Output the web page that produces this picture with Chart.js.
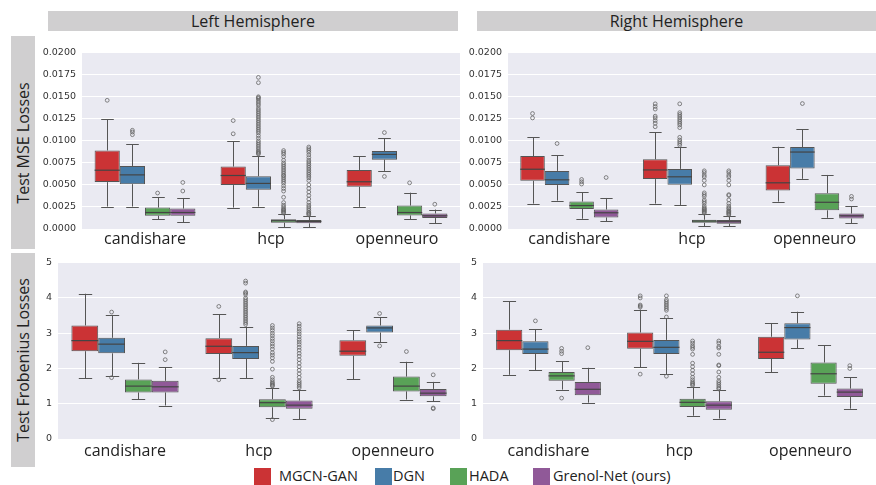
<!DOCTYPE html>
<html>
<head>
<meta charset="utf-8">
<script src="https://cdn.jsdelivr.net/npm/chart.js@4"></script>
<style>
  body { margin: 0; background: #fff; }
  #wrap { position: relative; width: 876px; height: 485px; overflow: hidden; font-family: "Open Sans", "Noto Sans", sans-serif; color: #222; }
  .strip { position: absolute; background: #d0cfd0; display: flex; align-items: center; justify-content: center; font-size: 16px; }
  .row { position: absolute; background: #d0cfd0; }
  .row span { position: absolute; left: 50%; top: 50%; transform: translate(-50%, -50%) rotate(-90deg); white-space: nowrap; font-size: 16px; }
  canvas { position: absolute; }
  .sw { position: absolute; width: 17px; height: 17px; top: 468px; }
  .lt { position: absolute; top: 466px; font-size: 14.5px; line-height: 20px; }
</style>
</head>
<body>
<div id="wrap">
  <div class="strip" style="left:48px;top:11px;width:410px;height:20px;">Left Hemisphere</div>
  <div class="strip" style="left:477px;top:11px;width:399px;height:20px;">Right Hemisphere</div>
  <div class="row" style="left:11px;top:36px;width:24px;height:213px;"><span>Test MSE Losses</span></div>
  <div class="row" style="left:11px;top:253px;width:24px;height:214px;"><span>Test Frobenius Losses</span></div>

  <canvas id="mseLeft" width="426" height="209" style="left:36px;top:41px;"></canvas>
  <canvas id="mseRight" width="414" height="209" style="left:462px;top:41px;"></canvas>
  <canvas id="frobLeft" width="426" height="212" style="left:36px;top:251px;"></canvas>
  <canvas id="frobRight" width="414" height="212" style="left:462px;top:251px;"></canvas>

  <div class="sw" style="left:254px;background:#cb3335;"></div><div class="lt" style="left:279px;">MGCN-GAN</div>
  <div class="sw" style="left:375px;background:#477ca8;"></div><div class="lt" style="left:393px;">DGN</div>
  <div class="sw" style="left:450px;background:#59a257;"></div><div class="lt" style="left:469px;">HADA</div>
  <div class="sw" style="left:533px;background:#905998;"></div><div class="lt" style="left:553px;">Grenol-Net (ours)</div>
</div>

<script>
const categories = ['candishare', 'hcp', 'openneuro'];
const methods = ['MGCN-GAN', 'DGN', 'HADA', 'Grenol-Net (ours)'];
const colors = ['#cb3335', '#477ca8', '#59a257', '#905998'];
const mseTicks = [0, 0.0025, 0.005, 0.0075, 0.01, 0.0125, 0.015, 0.0175, 0.02];
const frobTicks = [0, 1, 2, 3, 4, 5];

// [low whisker, q1, median, q3, high whisker] per category
const mseLeftMgcn = [[0.00255, 0.00532, 0.00667, 0.00891, 0.01243], [0.00243, 0.00498, 0.00607, 0.00708, 0.00996], [0.00251, 0.00479, 0.00536, 0.0067, 0.00828]];
const mseLeftDgn = [[0.00255, 0.00509, 0.00614, 0.00715, 0.00963], [0.00255, 0.00446, 0.00517, 0.00599, 0.00831], [0.00659, 0.00787, 0.00846, 0.00884, 0.0103]];
const mseLeftHada = [[0.00109, 0.0015, 0.00187, 0.00243, 0.00363], [0.00022, 0.00071, 0.00094, 0.00112, 0.00165], [0.00109, 0.00154, 0.00187, 0.00266, 0.00412]];
const mseLeftGrenol = [[0.00075, 0.0015, 0.00187, 0.00232, 0.00352], [0.00022, 0.00064, 0.00086, 0.00101, 0.0015], [0.00064, 0.00124, 0.0015, 0.00176, 0.00221]];

const mseLeftMgcnOut = [[0.0146], [0.0123, 0.0108], []];
const mseLeftDgnOut = [[0.0112, 0.0110, 0.0107],
  [0.0172, 0.0166, 0.0150, 0.0149, 0.0148, 0.0146, 0.0144, 0.0142, 0.0140, 0.0137, 0.0135, 0.0133, 0.0131, 0.0129, 0.0127, 0.0125, 0.0123, 0.0121, 0.0119, 0.0117, 0.0115, 0.0113, 0.0111, 0.0109, 0.0106, 0.0103, 0.0100, 0.0098, 0.0096, 0.0094, 0.0092, 0.0090, 0.0088, 0.0087, 0.0086, 0.0085],
  [0.01094, 0.00596]];
const mseLeftHadaOut = [[0.00408],
  [0.0089, 0.0087, 0.0085, 0.0082, 0.0078, 0.0075, 0.0073, 0.0071, 0.0069, 0.0067, 0.0065, 0.0063, 0.0061, 0.0060, 0.0058, 0.0056, 0.0054, 0.0052, 0.0049, 0.0046, 0.0043, 0.0036, 0.0030, 0.0027, 0.0025, 0.0023, 0.0022, 0.0021, 0.0020, 0.0019, 0.0018],
  [0.00524]];
const mseLeftGrenolOut = [[0.00528, 0.00431],
  [0.0093, 0.0091, 0.0089, 0.0087, 0.0084, 0.0081, 0.0078, 0.0076, 0.0074, 0.0072, 0.0070, 0.0068, 0.0066, 0.0064, 0.0062, 0.0060, 0.0058, 0.0055, 0.0050, 0.0046, 0.0042, 0.0038, 0.0034, 0.0030, 0.0027, 0.0025, 0.0023, 0.0021, 0.0019, 0.0018, 0.0017, 0.0016],
  [0.00281]];

const mseRightMgcn = [[0.00288, 0.00547, 0.00678, 0.00828, 0.01041], [0.00288, 0.00566, 0.0067, 0.0079, 0.01097], [0.00311, 0.00438, 0.00524, 0.00723, 0.00933]];
const mseRightDgn = [[0.00322, 0.00498, 0.00558, 0.00659, 0.00839], [0.00273, 0.00502, 0.00592, 0.00682, 0.00929], [0.00569, 0.00685, 0.00873, 0.00929, 0.01131]];
const mseRightHada = [[0.00116, 0.00228, 0.00266, 0.00311, 0.00419], [0.0003, 0.00071, 0.0009, 0.00105, 0.00172], [0.00127, 0.00212, 0.00303, 0.00406, 0.00613]];
const mseRightGrenol = [[0.0009, 0.00131, 0.00184, 0.00221, 0.00352], [0.0003, 0.0006, 0.00082, 0.00101, 0.00146], [0.00064, 0.00119, 0.0015, 0.00175, 0.00256]];

const mseRightMgcnOut = [[0.0131, 0.0126], [0.0142, 0.0139, 0.0136, 0.0128, 0.0126, 0.0123, 0.0120, 0.0116], []];
const mseRightDgnOut = [[0.0097],
  [0.0142, 0.0132, 0.0130, 0.0128, 0.0126, 0.0124, 0.0122, 0.0120, 0.0118, 0.0115, 0.0104, 0.0101, 0.0099, 0.0097, 0.0095],
  [0.01423]];
const mseRightHadaOut = [[0.00562, 0.00536, 0.0051],
  [0.0066, 0.0064, 0.0061, 0.0059, 0.0055, 0.0050, 0.0041, 0.0039, 0.0037, 0.0033, 0.0031, 0.0029, 0.0026, 0.0024, 0.0023, 0.0022, 0.0021, 0.0020, 0.0019, 0.0018],
  []];
const mseRightGrenolOut = [[0.00584],
  [0.0066, 0.0064, 0.0061, 0.0059, 0.0055, 0.0050, 0.0039, 0.0038, 0.0033, 0.0029, 0.0026, 0.0024, 0.0023, 0.0021, 0.0020, 0.0019, 0.0018, 0.0017, 0.0016],
  [0.0037, 0.0034]];

const frobLeftMgcn = [[1.73, 2.49, 2.79, 3.22, 4.12], [1.73, 2.41, 2.63, 2.86, 3.54], [1.70, 2.36, 2.49, 2.80, 3.09]];
const frobLeftDgn = [[1.78, 2.43, 2.69, 2.87, 3.52], [1.73, 2.27, 2.45, 2.64, 3.19], [2.75, 3.02, 3.15, 3.22, 3.46]];
const frobLeftHada = [[1.13, 1.32, 1.50, 1.69, 2.16], [0.60, 0.90, 1.03, 1.13, 1.44], [1.12, 1.35, 1.50, 1.77, 2.19]];
const frobLeftGrenol = [[0.95, 1.32, 1.48, 1.65, 2.03], [0.56, 0.86, 0.96, 1.09, 1.40], [1.07, 1.21, 1.30, 1.42, 1.62]];

const frobLeftMgcnOut = [[], [3.76, 1.68], []];
const frobLeftDgnOut = [[3.60, 1.74],
  [4.48, 4.42, 4.17, 4.14, 4.10, 4.00, 3.95, 3.90, 3.85, 3.80, 3.75, 3.70, 3.65, 3.60, 3.55, 3.50, 3.45, 3.40, 3.35, 3.30, 3.25],
  [3.56, 2.64]];
const frobLeftHadaOut = [[],
  [3.22, 3.15, 3.08, 3.00, 2.93, 2.85, 2.78, 2.70, 2.63, 2.55, 2.45, 2.38, 2.30, 2.20, 1.98, 1.75, 1.68, 1.62, 1.58, 1.55, 1.52, 1.50, 0.55],
  [2.48]];
const frobLeftGrenolOut = [[2.47, 2.25],
  [3.27, 3.20, 3.12, 3.05, 2.98, 2.90, 2.82, 2.75, 2.68, 2.60, 2.52, 2.43, 2.35, 2.25, 2.15, 2.05, 1.95, 1.85, 1.75, 1.65, 1.60, 1.55, 1.50, 1.45],
  [1.82, 0.88, 0.86]];

const frobRightMgcn = [[1.82, 2.52, 2.79, 3.10, 3.90], [2.04, 2.56, 2.77, 3.02, 3.67], [1.90, 2.27, 2.46, 2.90, 3.29]];
const frobRightDgn = [[1.95, 2.41, 2.55, 2.77, 3.12], [1.84, 2.41, 2.60, 2.81, 3.42], [2.57, 2.82, 3.16, 3.28, 3.61]];
const frobRightHada = [[1.40, 1.65, 1.79, 1.90, 2.20], [0.66, 0.91, 1.04, 1.14, 1.48], [1.23, 1.57, 1.85, 2.17, 2.66]];
const frobRightGrenol = [[1.03, 1.24, 1.41, 1.62, 2.02], [0.58, 0.83, 0.96, 1.07, 1.40], [0.86, 1.19, 1.33, 1.43, 1.75]];

const frobRightMgcnOut = [[], [4.06, 4.00, 3.80, 3.77, 3.74, 1.84], []];
const frobRightDgnOut = [[3.35], [4.06, 3.95, 3.90, 3.85, 3.80, 3.75, 3.70, 3.65, 3.46, 1.78], [4.06]];
const frobRightHadaOut = [[2.57, 2.49, 2.42, 1.16],
  [2.78, 2.72, 2.65, 2.60, 2.55, 2.40, 2.15, 2.05, 1.95, 1.85, 1.75, 1.68, 1.62, 1.58, 1.55, 1.52],
  []];
const frobRightGrenolOut = [[2.59],
  [2.78, 2.72, 2.62, 2.58, 2.40, 2.10, 2.08, 1.90, 1.75, 1.65, 1.60, 1.55, 1.50, 1.45, 1.42],
  [2.08, 2.00]];

const lineColor = '#555555';

// fundo cinza-azulado da área do gráfico
const plotBg = {
  id: 'plotBg',
  beforeDraw(chart) {
    const { ctx, chartArea: a } = chart;
    ctx.save();
    ctx.fillStyle = '#eaeaf2';
    ctx.fillRect(a.left, a.top, a.right - a.left, a.bottom - a.top);
    ctx.restore();
  }
};

// bigodes, mediana e outliers desenhados sobre as caixas
const boxParts = {
  id: 'boxParts',
  afterDatasetsDraw(chart) {
    const ctx = chart.ctx;
    const y = chart.scales.y;
    chart.data.datasets.forEach((ds, di) => {
      const meta = chart.getDatasetMeta(di);
      meta.data.forEach((bar, i) => {
        const [lo, q1, med, q3, hi] = ds.stats[i];
        const x = Math.round(bar.x) + 0.5;
        const w = bar.width;
        ctx.save();
        ctx.strokeStyle = lineColor;
        ctx.lineWidth = 1;
        ctx.beginPath();
        ctx.moveTo(x, y.getPixelForValue(q3));
        ctx.lineTo(x, y.getPixelForValue(hi));
        ctx.moveTo(x, y.getPixelForValue(q1));
        ctx.lineTo(x, y.getPixelForValue(lo));
        const ph = Math.round(y.getPixelForValue(hi)) + 0.5;
        const pl = Math.round(y.getPixelForValue(lo)) + 0.5;
        ctx.moveTo(x - w / 4, ph); ctx.lineTo(x + w / 4, ph);
        ctx.moveTo(x - w / 4, pl); ctx.lineTo(x + w / 4, pl);
        ctx.stroke();
        ctx.strokeStyle = '#444444';
        ctx.lineWidth = 1.2;
        ctx.beginPath();
        const pm = y.getPixelForValue(med);
        ctx.moveTo(bar.x - w / 2, pm); ctx.lineTo(bar.x + w / 2, pm);
        ctx.stroke();
        ctx.strokeStyle = '#666666';
        ctx.lineWidth = 0.8;
        ds.outliers[i].forEach(v => {
          ctx.beginPath();
          ctx.arc(bar.x, y.getPixelForValue(v), 1.9, 0, Math.PI * 2);
          ctx.stroke();
        });
        ctx.restore();
      });
    });
  }
};

function makePanel(id, stats, outs, ticks, yWidth, padRight, xHeight, labelPad, decimals) {
  const ctx = document.getElementById(id);
  new Chart(ctx, {
    type: 'bar',
    data: {
      labels: categories,
      datasets: methods.map((m, k) => ({
        label: m,
        data: stats[k].map(s => [s[1], s[3]]),
        stats: stats[k],
        outliers: outs[k],
        backgroundColor: colors[k],
        borderColor: lineColor,
        borderWidth: 1,
        borderSkipped: false,
        categoryPercentage: 0.8,
        barPercentage: 1.0,
      }))
    },
    options: {
      responsive: false,
      animation: false,
      layout: { padding: { top: 10, right: padRight, left: 0, bottom: 0 } },
      plugins: { legend: { display: false }, tooltip: { enabled: false } },
      scales: {
        x: {
          grid: { display: false, drawTicks: false },
          border: { display: false },
          ticks: { color: '#222', padding: labelPad, font: { family: 'Open Sans', size: 16 } },
          afterFit: (s) => { s.height = xHeight; }
        },
        y: {
          min: ticks[0],
          max: ticks[ticks.length - 1],
          afterBuildTicks: (s) => { s.ticks = ticks.map(v => ({ value: v })); },
          grid: { color: '#ffffff', lineWidth: 1, drawTicks: false },
          border: { display: false },
          ticks: {
            color: '#333',
            padding: 6,
            font: { family: 'DejaVu Sans', size: 9.5 },
            callback: (v) => Number(v).toFixed(decimals)
          },
          afterFit: (s) => { s.width = yWidth; }
        }
      }
    },
    plugins: [plotBg, boxParts]
  });
}

makePanel('mseLeft', [mseLeftMgcn, mseLeftDgn, mseLeftHada, mseLeftGrenol],
  [mseLeftMgcnOut, mseLeftDgnOut, mseLeftHadaOut, mseLeftGrenolOut], mseTicks, 46, 2, 21, 1, 4);
makePanel('mseRight', [mseRightMgcn, mseRightDgn, mseRightHada, mseRightGrenol],
  [mseRightMgcnOut, mseRightDgnOut, mseRightHadaOut, mseRightGrenolOut], mseTicks, 46, 0, 21, 1, 4);
makePanel('frobLeft', [frobLeftMgcn, frobLeftDgn, frobLeftHada, frobLeftGrenol],
  [frobLeftMgcnOut, frobLeftDgnOut, frobLeftHadaOut, frobLeftGrenolOut], frobTicks, 22, 2, 24, 3, 0);
makePanel('frobRight', [frobRightMgcn, frobRightDgn, frobRightHada, frobRightGrenol],
  [frobRightMgcnOut, frobRightDgnOut, frobRightHadaOut, frobRightGrenolOut], frobTicks, 21, 0, 24, 3, 0);
</script>
</body>
</html>
